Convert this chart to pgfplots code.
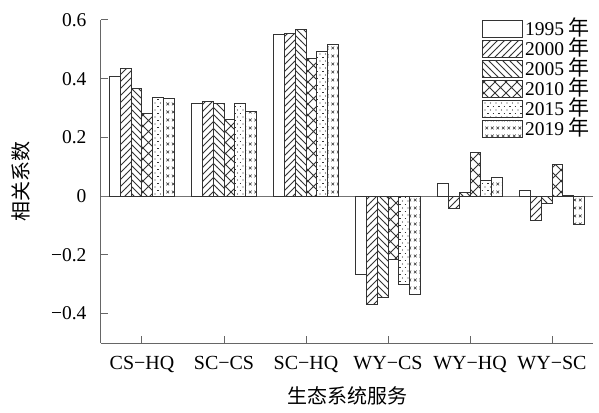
\documentclass[border=0pt]{standalone}
\usepackage{fontspec}
\setmainfont{Liberation Serif}
\newfontfamily\tnr{Liberation Serif}
\newfontfamily\cjk{Noto Sans CJK SC}
\usepackage{pgfplots}
\pgfplotsset{compat=1.18}
\usetikzlibrary{patterns}

\pgfdeclarepatternformonly{ne7}{\pgfqpoint{-1pt}{-1pt}}{\pgfqpoint{8pt}{8pt}}{\pgfqpoint{7pt}{7pt}}{%
  \pgfsetlinewidth{0.8pt}\pgfpathmoveto{\pgfqpoint{-0.1pt}{-0.1pt}}\pgfpathlineto{\pgfqpoint{7.1pt}{7.1pt}}\pgfusepath{stroke}}
\pgfdeclarepatternformonly{nw7}{\pgfqpoint{-1pt}{-1pt}}{\pgfqpoint{8pt}{8pt}}{\pgfqpoint{7pt}{7pt}}{%
  \pgfsetlinewidth{0.8pt}\pgfpathmoveto{\pgfqpoint{-0.1pt}{7.1pt}}\pgfpathlineto{\pgfqpoint{7.1pt}{-0.1pt}}\pgfusepath{stroke}}
\pgfdeclarepatternformonly{xh}{\pgfqpoint{-1pt}{-1pt}}{\pgfqpoint{12pt}{12pt}}{\pgfqpoint{11pt}{11pt}}{%
  \pgfsetlinewidth{0.8pt}\pgfpathmoveto{\pgfqpoint{-0.1pt}{-0.1pt}}\pgfpathlineto{\pgfqpoint{11.1pt}{11.1pt}}%
  \pgfpathmoveto{\pgfqpoint{-0.1pt}{11.1pt}}\pgfpathlineto{\pgfqpoint{11.1pt}{-0.1pt}}\pgfusepath{stroke}}
\pgfdeclarepatternformonly{dd}{\pgfqpoint{-1pt}{-1pt}}{\pgfqpoint{7pt}{8pt}}{\pgfqpoint{5.5pt}{7pt}}{%
  \pgfpathcircle{\pgfqpoint{1pt}{1pt}}{0.55pt}\pgfusepath{fill}%
  \pgfsetlinewidth{0.6pt}\pgfpathmoveto{\pgfqpoint{3pt}{4.5pt}}\pgfpathlineto{\pgfqpoint{4.5pt}{4.5pt}}\pgfusepath{stroke}}
\pgfdeclarepatternformonly{xx}{\pgfqpoint{-1pt}{-1pt}}{\pgfqpoint{7pt}{9pt}}{\pgfqpoint{5.5pt}{8pt}}{%
  \pgfsetlinewidth{0.6pt}\pgfpathmoveto{\pgfqpoint{1.4pt}{2.7pt}}\pgfpathlineto{\pgfqpoint{4.1pt}{5.4pt}}%
  \pgfpathmoveto{\pgfqpoint{1.4pt}{5.4pt}}\pgfpathlineto{\pgfqpoint{4.1pt}{2.7pt}}\pgfusepath{stroke}}

\pgfplotstableread{
x y
0 0.406
1 0.314
2 0.549
3 -0.268
4 0.043
5 0.018
}\ya
\pgfplotstableread{
x y
0 0.436
1 0.323
2 0.555
3 -0.370
4 -0.042
5 -0.083
}\yb
\pgfplotstableread{
x y
0 0.365
1 0.314
2 0.568
3 -0.344
4 0.012
5 -0.025
}\yc
\pgfplotstableread{
x y
0 0.282
1 0.262
2 0.470
3 -0.216
4 0.150
5 0.107
}\yd
\pgfplotstableread{
x y
0 0.335
1 0.316
2 0.492
3 -0.302
4 0.055
5 0.004
}\ye
\pgfplotstableread{
x y
0 0.332
1 0.288
2 0.516
3 -0.336
4 0.063
5 -0.095
}\yf

\newcommand{\nian}{{\cjk\fontsize{21}{21}\selectfont 年}}

\begin{document}
\begin{tikzpicture}
\useasboundingbox (-101pt,-69pt) rectangle (498pt,343pt);
\begin{axis}[
  at={(0pt,0pt)}, anchor=south west,
  scale only axis, width=492pt, height=323pt,
  xmin=-0.5, xmax=5.5, ymin=-0.5, ymax=0.6,
  axis x line=bottom, axis y line=left,
  axis line style={-, draw=black!60, line width=1pt},
  ybar=0pt, bar width=0.134,
  /pgf/number format/assume math mode=true,
  xtick={0,1,2,3,4,5},
  xticklabels={CS−HQ,SC−CS,SC−HQ,WY−CS,WY−HQ,WY−SC},
  ytick={-0.4,-0.2,0,0.2,0.4,0.6},
  yticklabels={−0.4,−0.2,0,0.2,0.4,0.6},
  tick align=inside, major tick length=7pt,
  tick style={draw=black!60, line width=1pt},
  yticklabel style={font=\tnr\fontsize{19.5}{21}\selectfont, xshift=-11pt},
  xticklabel style={font=\tnr\fontsize{20}{22}\selectfont, yshift=-10pt},
  extra y ticks={0}, extra y tick labels={},
  extra y tick style={grid=major, major grid style={draw=black!55, line width=1pt}, major tick length=0pt},
  ylabel={\cjk 相关系数},
  ylabel style={font=\fontsize{20}{22}\selectfont, at={(axis description cs:-0.163,0.5)}, anchor=center},
  xlabel={\cjk 生态系统服务},
  xlabel style={font=\fontsize{20}{22}\selectfont, at={(axis description cs:0.5,-0.164)}, anchor=center},
  legend style={at={(0.774,1)}, anchor=north west, draw=none, fill=none, inner sep=0pt,
    row sep=0.5pt, font=\tnr\fontsize{19.5}{21}\selectfont, cells={anchor=base west},
    nodes={inner xsep=2pt, inner ysep=1pt, text height=13pt, text depth=3pt}},
  mybar/.style={draw=black!80, line width=1pt,
    legend image code/.code={\draw[##1, line width=1pt] (0pt,-2pt) rectangle (40pt,15pt);}},
]
\addplot[mybar, fill=white] table {\ya};
\addplot[mybar, pattern=ne7, pattern color=black!80] table {\yb};
\addplot[mybar, pattern=nw7, pattern color=black!80] table {\yc};
\addplot[mybar, pattern=xh, pattern color=black!80] table {\yd};
\addplot[mybar, pattern=dd, pattern color=black!80] table {\ye};
\addplot[mybar, pattern=xx, pattern color=black!80] table {\yf};
\legend{1995 \nian,2000 \nian,2005 \nian,2010 \nian,2015 \nian,2019 \nian}
\end{axis}
\end{tikzpicture}
\end{document}
